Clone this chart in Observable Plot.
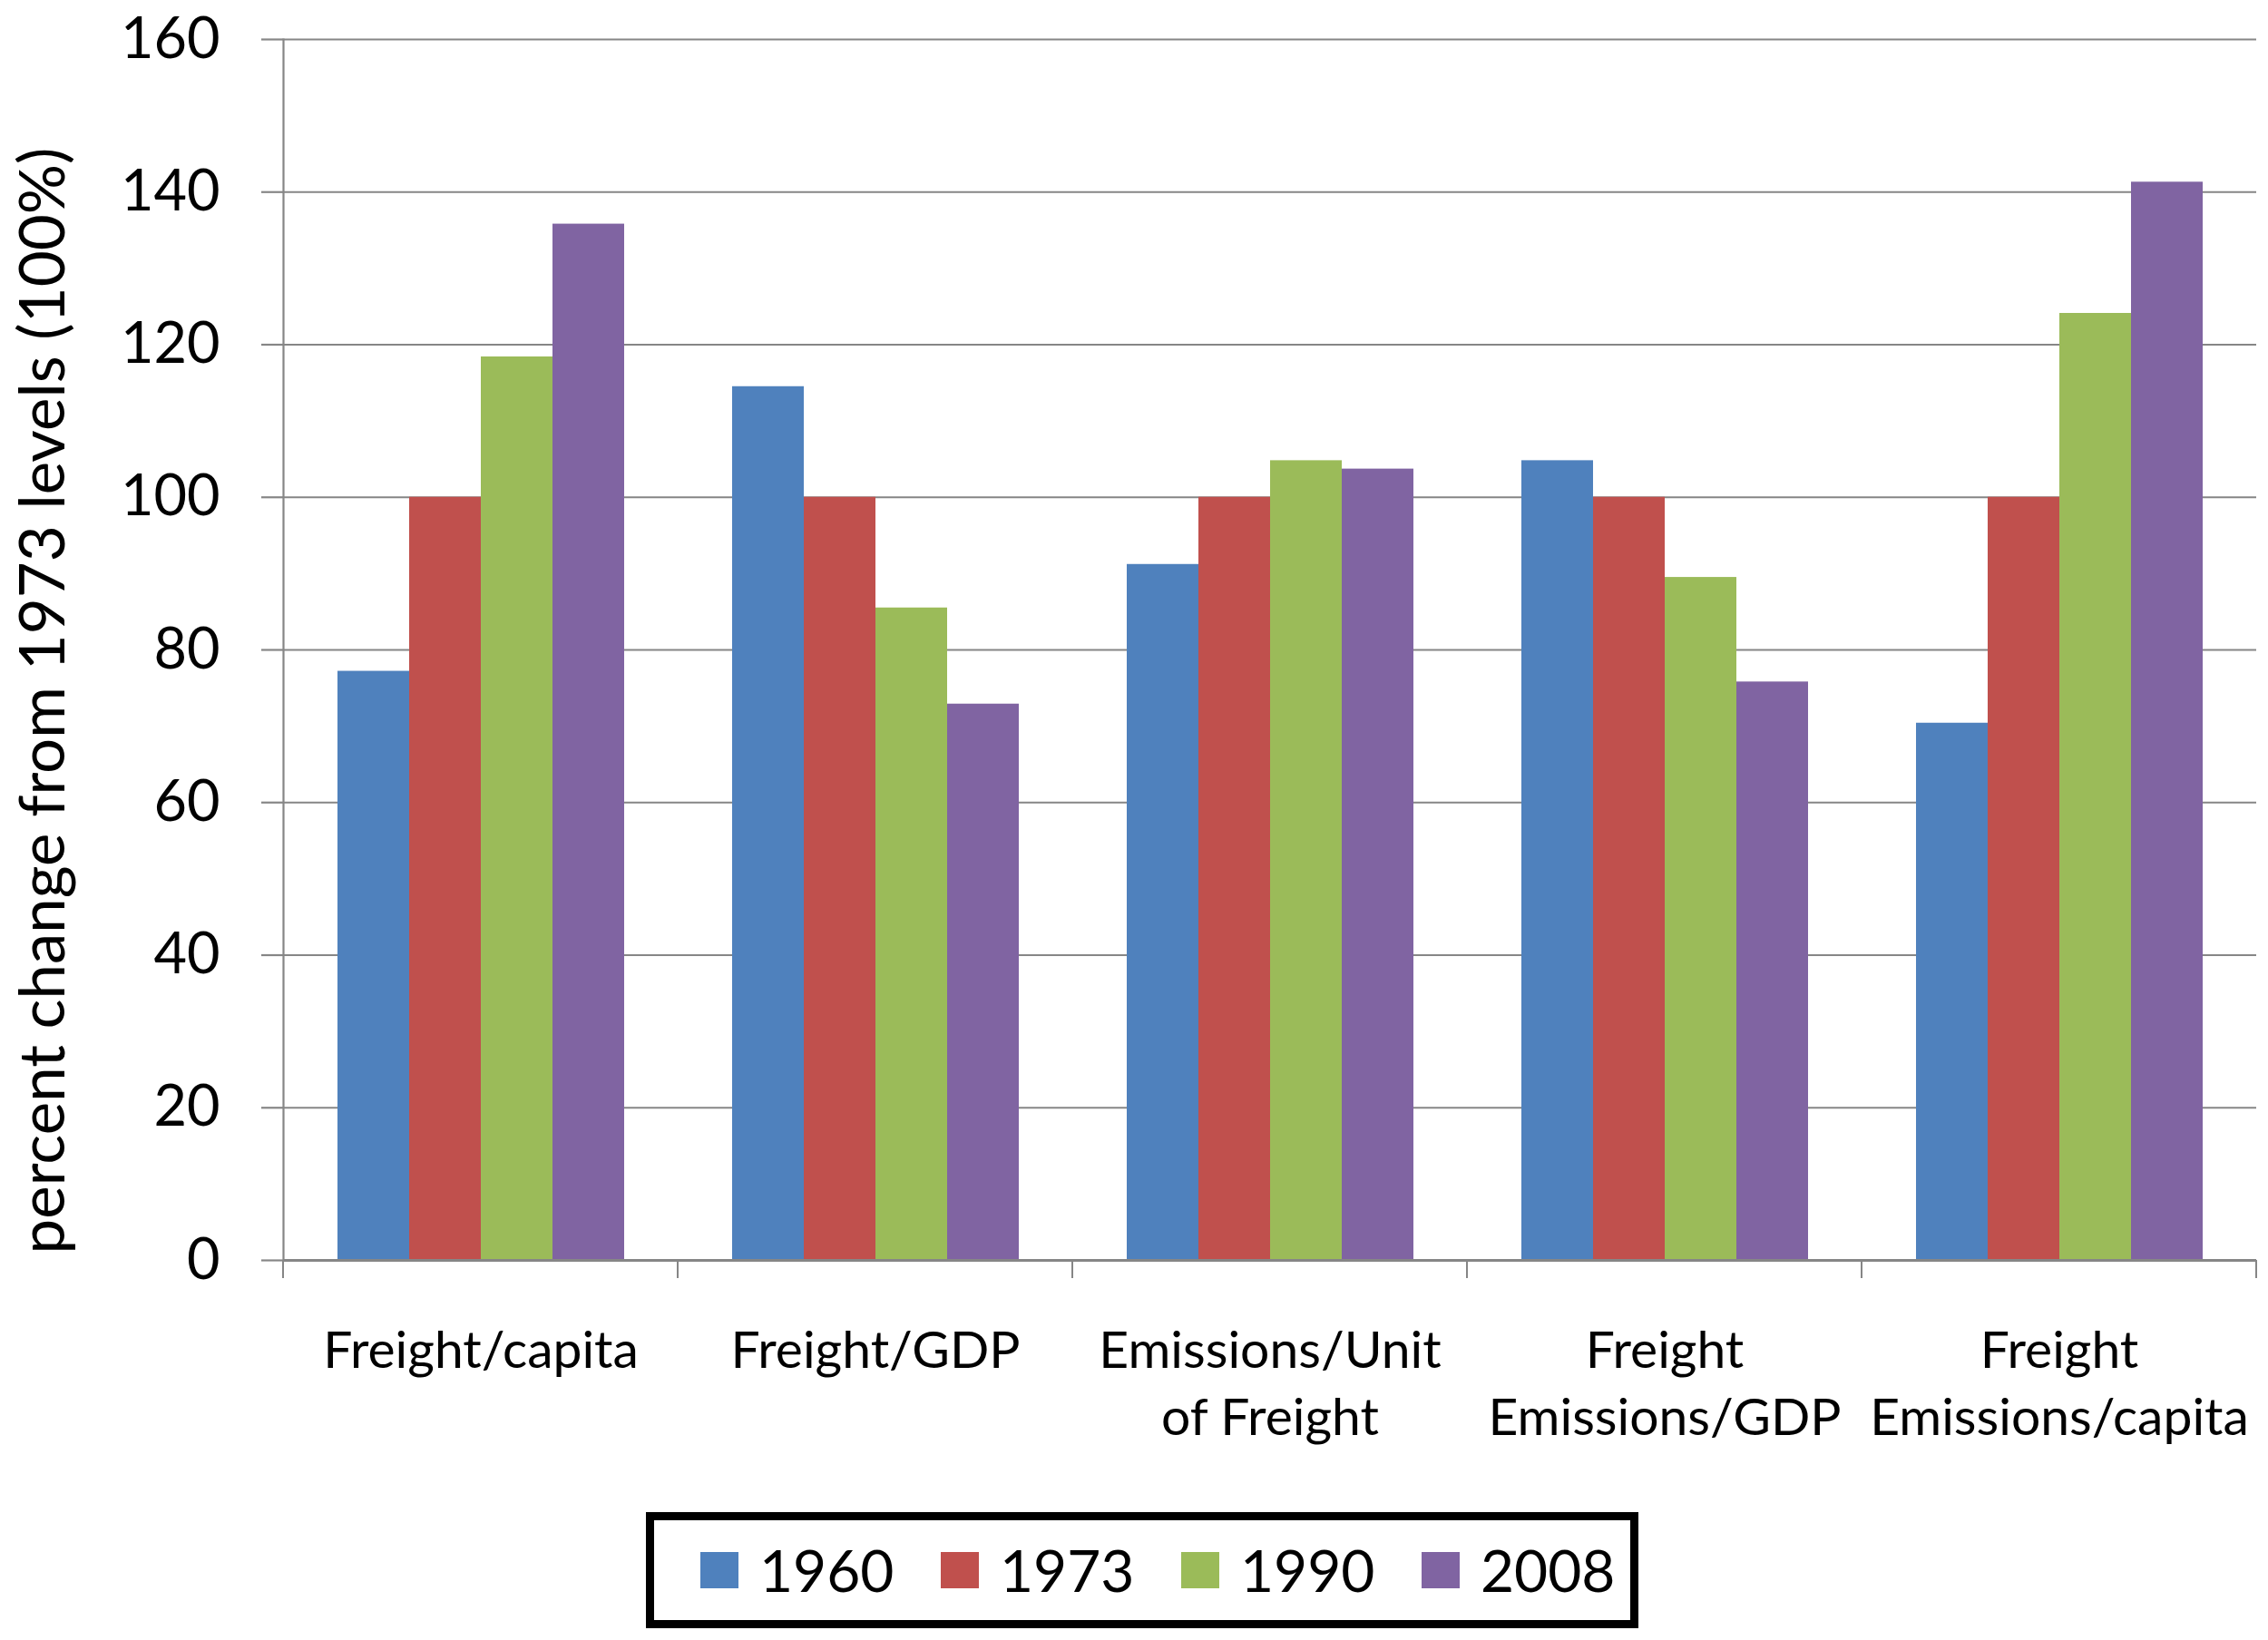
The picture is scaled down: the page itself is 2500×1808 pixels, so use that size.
<!DOCTYPE html>
<html>
<head>
<meta charset="utf-8">
<script src="https://cdn.jsdelivr.net/npm/d3@7"></script>
<script src="https://cdn.jsdelivr.net/npm/@observablehq/plot@0.6"></script>
<style>
  html, body { margin: 0; padding: 0; background: #fff; }
  #chart { width: 2500px; }
  #legend { position: relative; width: 2500px; height: 168px; font-family: Lato, sans-serif; }
  #legendBox {
    position: absolute; left: 712px; top: 27px; width: 1094px; height: 128px;
    box-sizing: border-box; border: 9px solid #000; display: flex; align-items: center;
    padding-left: 51px;
  }
  .item { display: flex; align-items: center; width: 265px; flex-shrink: 0; }
  .sw { width: 42px; height: 40px; margin-right: 23px; }
  .lab { font-size: 64px; color: #000; line-height: 1; }
</style>
</head>
<body>
<div id="chart"></div>
<div id="legend"><div id="legendBox"></div></div>
<script>
const categories = ["Freight/capita", "Freight/GDP", "Emissions/Unit\nof Freight", "Freight\nEmissions/GDP", "Freight\nEmissions/capita"];
const years = ["1960", "1973", "1990", "2008"];
const v1960 = [77.2, 114.5, 91.2, 104.8, 70.4];
const v1973 = [100, 100, 100, 100, 100];
const v1990 = [118.4, 85.5, 104.8, 89.5, 124.1];
const v2008 = [135.8, 72.9, 103.7, 75.8, 141.3];
const colors = ["#4F81BD", "#C0504D", "#9BBB59", "#8064A2"];
const yTicks = [0, 20, 40, 60, 80, 100, 120, 140, 160];
const yLabel = "percent change from 1973 levels (100%)";

const series = [v1960, v1973, v1990, v2008];
const rows = categories.flatMap((c, i) => years.map((yr, j) => ({category: c, year: yr, value: series[j][i]})));

const H = 1640;
const grid = "#868686";

const plot = Plot.plot({
  width: 2500,
  height: H,
  marginLeft: 311,
  marginRight: 13,
  marginTop: 43,
  marginBottom: H - 1389,
  style: {fontFamily: "Lato, sans-serif", background: "#fff", color: "#000"},
  fx: {domain: categories, padding: 0, label: null},
  x: {domain: years, paddingInner: 0, paddingOuter: 0.745, axis: null},
  y: {domain: [0, 160], label: null},
  color: {domain: years, range: colors},
  marks: [
    Plot.ruleY(yTicks, {stroke: grid, strokeWidth: 2.2}),
    Plot.barY(rows, {fx: "category", x: "year", y: "value", fill: "year"}),
    Plot.ruleY([0], {stroke: grid, strokeWidth: 3}),
    Plot.frame({anchor: "left", facetAnchor: "left", stroke: grid, strokeWidth: 2.2}),
    Plot.axisY({ticks: yTicks, tickSize: 24, tickPadding: 46, fontSize: 63, stroke: grid, strokeWidth: 2.2, label: null, fill: "#000"}),
    Plot.text([yLabel], {text: d => d, frameAnchor: "left", facetAnchor: "left", rotate: -90, textAnchor: "middle", lineAnchor: "top", dx: -291, dy: 56, fontSize: 69, fill: "#000"}),
    Plot.axisFx({anchor: "bottom", tickSize: 0, tickPadding: 65, fontSize: 57, lineHeight: 1.31, label: null, fill: "#000"})
  ]
});

document.getElementById("chart").appendChild(plot);

// category boundary tick marks below the x axis, positioned with the plot's own scales
const fx = plot.scale("fx");
const ys = plot.scale("y");
const y0 = ys.apply(0);
const bounds = categories.map(c => fx.apply(c)).concat([fx.apply(categories[categories.length - 1]) + fx.bandwidth]);
d3.select(plot).append("g")
  .selectAll("line").data(bounds).join("line")
  .attr("x1", d => d).attr("x2", d => d)
  .attr("y1", y0).attr("y2", y0 + 20)
  .attr("stroke", grid).attr("stroke-width", 2);

// legend
const box = d3.select("#legendBox");
years.forEach((yr, i) => {
  const it = box.append("div").attr("class", "item");
  it.append("div").attr("class", "sw").style("background", colors[i]);
  it.append("div").attr("class", "lab").text(yr);
});
</script>
</body>
</html>
